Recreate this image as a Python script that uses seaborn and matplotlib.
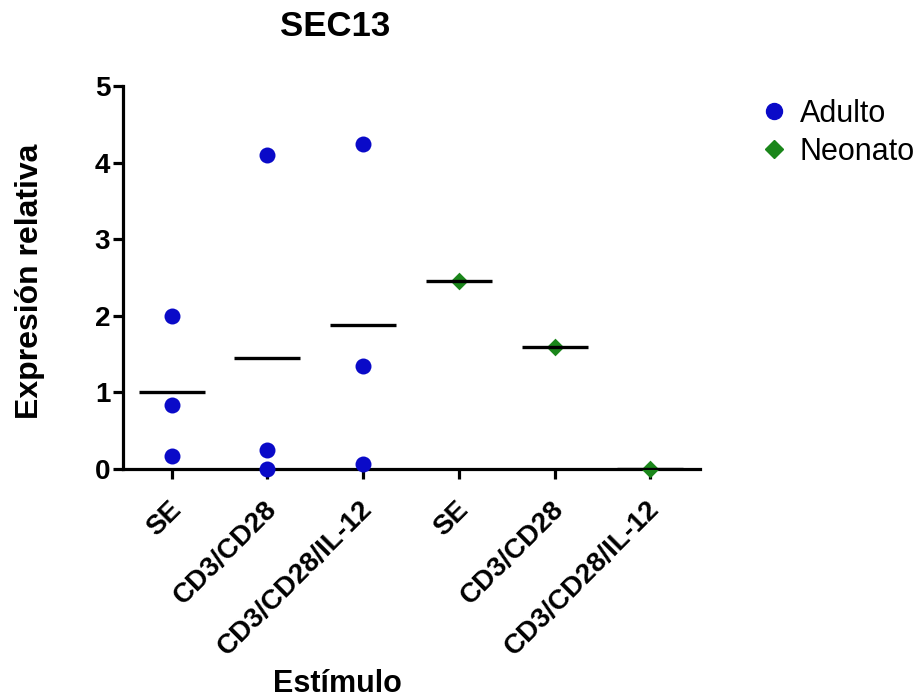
import matplotlib
matplotlib.use("Agg")
import matplotlib.pyplot as plt
from matplotlib.lines import Line2D
from matplotlib.transforms import ScaledTranslation
import seaborn as sns
import pandas as pd

# ---- data ----
grupos = ["Adulto", "Neonato"]
estimulos = ["SE", "CD3/CD28", "CD3/CD28/IL-12"]
adulto_se = [2.0, 0.83, 0.17]
adulto_cd3cd28 = [4.10, 0.0, 0.25]
adulto_il12 = [4.24, 1.34, 0.07]
neonato_se = [2.45]
neonato_cd3cd28 = [1.59]
neonato_il12 = [0.0]
tick_labels = estimulos + estimulos

rows = []
for grupo, series in [("Adulto", [adulto_se, adulto_cd3cd28, adulto_il12]),
                      ("Neonato", [neonato_se, neonato_cd3cd28, neonato_il12])]:
    for est, vals in zip(estimulos, series):
        for v in vals:
            rows.append({"grupo": grupo, "pos": f"{grupo} {est}", "valor": v})
df = pd.DataFrame(rows)
order = [f"{g} {e}" for g in grupos for e in estimulos]

sns.set_theme(style="ticks")
plt.rcParams["font.family"] = ["Liberation Sans", "DejaVu Sans"]
for k in ["text.color", "axes.labelcolor", "xtick.color", "ytick.color", "axes.edgecolor"]:
    plt.rcParams[k] = "black"

blue = "#0a0ac8"
green = "#1a861a"

fig = plt.figure(figsize=(9.2, 7.0), dpi=100)
ax = fig.add_axes([123 / 920, 1 - 469 / 700, (700 - 123) / 920, (469 - 86) / 700])

sns.stripplot(data=df[df.grupo == "Adulto"], x="pos", y="valor", order=order,
              jitter=False, marker="o", size=11.5, color=blue, linewidth=0,
              ax=ax, clip_on=False, zorder=4)
sns.stripplot(data=df[df.grupo == "Neonato"], x="pos", y="valor", order=order,
              jitter=False, marker="D", size=9, color=green, linewidth=0,
              ax=ax, clip_on=False, zorder=4)
sns.pointplot(data=df, x="pos", y="valor", order=order, estimator="mean",
              errorbar=None, linestyle="none", marker="_", markersize=48,
              markeredgewidth=2.4, color="black", ax=ax, zorder=5)

ax.set_ylim(0, 5)
ax.set_xlim(-0.51, 5.52)
ax.set_yticks([0, 1, 2, 3, 4, 5])
ax.set_xticks(range(6))
ax.set_xlabel("")
ax.set_ylabel("")
sns.despine(ax=ax)
for s in ["left", "bottom"]:
    ax.spines[s].set_linewidth(2.3)
ax.tick_params(axis="both", width=2.3, length=7.2, color="black")
ax.tick_params(axis="y", pad=2)
ax.tick_params(axis="x", pad=6)

ax.set_xticklabels(tick_labels, rotation=45, ha="right", rotation_mode="anchor",
                   fontsize=20, fontweight="bold")
shift = ScaledTranslation(-4 / 100, -9 / 100, fig.dpi_scale_trans)
for lab in ax.get_xticklabels():
    lab.set_transform(lab.get_transform() + shift)
for lab in ax.get_yticklabels():
    lab.set_fontsize(20)
    lab.set_fontweight("bold")

fig.text(335 / 920, 1 - 27 / 700, "SEC13", ha="center", va="center",
         fontsize=25, fontweight="bold")
fig.text(30 / 920, 1 - 281 / 700, "Expresión relativa", ha="center", va="center",
         rotation=90, fontsize=23, fontweight="bold")
fig.text(337 / 920, 1 - 684 / 700, "Estímulo", ha="center", va="center",
         fontsize=22, fontweight="bold")

handles = [Line2D([], [], marker="o", linestyle="none", color=blue, markersize=11.5),
           Line2D([], [], marker="D", linestyle="none", color=green, markersize=9)]
fig.legend(handles, grupos, loc="upper left", bbox_to_anchor=(757 / 920, 1 - 99 / 700),
           frameon=False, fontsize=22, handletextpad=0.3, handlelength=1.1,
           labelspacing=0.25, borderaxespad=0, borderpad=0)

fig.savefig("out.png", dpi=100)
